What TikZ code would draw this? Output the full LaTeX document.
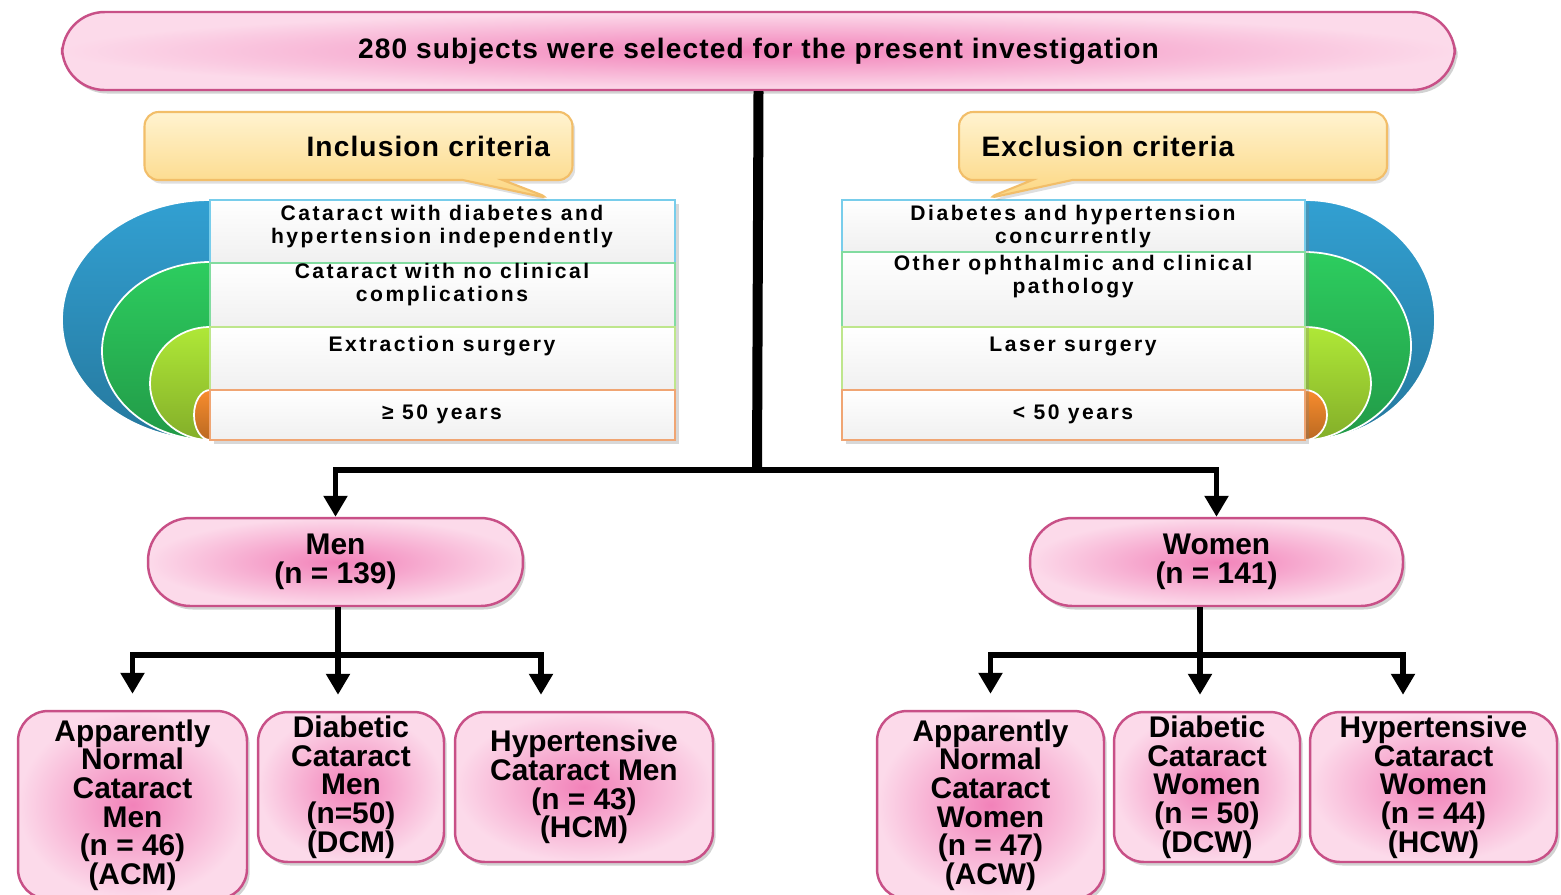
\documentclass[tikz,border=0pt]{standalone}
\usepackage{fontspec}
\setmainfont{Liberation Sans}
\newfontfamily\critfont[LetterSpace=12]{Liberation Sans}
\newfontfamily\headfont[LetterSpace=4]{Liberation Sans}
\usetikzlibrary{arrows.meta, positioning, shapes.callouts, shadows, calc}
\definecolor{pinkedge}{RGB}{200,80,135}
\definecolor{pinkmid}{RGB}{242,130,185}
\definecolor{pinklight}{RGB}{252,218,234}
\definecolor{calltop}{RGB}{255,243,208}
\definecolor{callbot}{RGB}{252,214,128}
\definecolor{calledge}{RGB}{242,190,105}
\definecolor{bowlblue}{RGB}{50,160,210}
\definecolor{bowlgreen}{RGB}{45,205,95}
\definecolor{bowllime}{RGB}{175,232,55}
\definecolor{bowlorange}{RGB}{248,140,45}
\definecolor{rowfill}{RGB}{240,240,240}
\definecolor{lineblue}{RGB}{120,205,235}
\definecolor{linegreen}{RGB}{130,220,160}
\definecolor{linelime}{RGB}{190,230,140}
\definecolor{lineorange}{RGB}{240,165,115}
\tikzset{
  pinkbox/.style = {draw=pinkedge, line width=1.4pt, inner color=pinkmid, outer color=pinklight,
                    align=center, inner sep=2pt, font=\fontsize{17}{16.3}\selectfont\bfseries,
                    drop shadow={shadow xshift=1.5pt, shadow yshift=-2pt, opacity=0.35}},
  pill/.style    = {pinkbox, rounded corners=0.85cm},
  group/.style   = {pinkbox, rounded corners=0.6cm},
  crit/.style    = {rectangle callout, draw=calledge, line width=1.2pt, top color=calltop,
                    bottom color=callbot, rounded corners=8pt, text width=7.66cm,
                    minimum height=1.36cm, inner xsep=0.45cm, callout pointer width=0.8cm,
                    font=\headfont\fontsize{16}{16}\selectfont\bfseries,
                    drop shadow={shadow xshift=1.5pt, shadow yshift=-2pt, opacity=0.25}},
  rowtext/.style = {align=center, font=\critfont\fontsize{12}{13}\selectfont\bfseries},
  trunk/.style   = {line width=0.2cm, black},
  arrow/.style   = {-{Triangle[width=0.46cm,length=0.42cm]}, line width=3pt, black},
}

\begin{document}
\begin{tikzpicture}[x=0.02cm, y=-0.02cm]

  \clip (0,0) rectangle (1561,894);
  \fill[white] (0,0) rectangle (1561,894);

  % title bar
  \node[pill, minimum width=27.86cm, minimum height=1.56cm,
        font=\headfont\fontsize{16}{16}\selectfont\bfseries] (banner) at (758.5,51)
        {280 subjects were selected for the present investigation};

  % bowls behind the criteria tables
  \foreach \yt/\rx/\c in {200/148/bowlblue, 262/108/bowlgreen, 327/60/bowllime, 390/16/bowlorange}
    \draw[white, line width=1pt, top color=\c, bottom color=\c!75!black]
      (210,\yt) arc[start angle=270, end angle=90, x radius=\rx, y radius={(440-\yt)/2}] -- cycle;
  \foreach \yt/\rx/\c in {200/130/bowlblue, 252/106/bowlgreen, 327/66/bowllime, 390/22/bowlorange}
    \draw[white, line width=1pt, top color=\c, bottom color=\c!75!black]
      (1305,\yt) arc[start angle=-90, end angle=90, x radius=\rx, y radius={(440-\yt)/2}] -- cycle;

  % criteria tables
  \fill[white, drop shadow={shadow xshift=2pt, shadow yshift=-2pt, opacity=0.3}] (210,200) rectangle (675,440);
  \fill[white, drop shadow={shadow xshift=2pt, shadow yshift=-2pt, opacity=0.3}] (842,200) rectangle (1305,440);
  \foreach \ya/\yb/\c in {200/263/lineblue, 263/327/linegreen, 327/390/linelime, 390/440/lineorange}
    \draw[\c, line width=1pt, top color=white, bottom color=rowfill] (210,\ya) rectangle (675,\yb);
  \foreach \ya/\yb/\c in {200/252/lineblue, 252/327/linegreen, 327/390/linelime, 390/440/lineorange}
    \draw[\c, line width=1pt, top color=white, bottom color=rowfill] (842,\ya) rectangle (1305,\yb);

  \node[rowtext] (inc1) at (442,226.5) {Cataract with diabetes and\\hypertension independently};
  \node[rowtext] (inc2) at (442,284.5) {Cataract with no clinical\\complications};
  \node[rowtext] (inc3) at (442,346) {Extraction surgery};
  \node[rowtext] (inc4) at (442,414) {≥ 50 years};
  \node[rowtext] (exc1) at (1073,226.5) {Diabetes and hypertension\\concurrently};
  \node[rowtext] (exc2) at (1073,276.5) {Other ophthalmic and clinical\\pathology};
  \node[rowtext] (exc3) at (1073,346) {Laser surgery};
  \node[rowtext] (exc4) at (1073,414) {< 50 years};

  % callouts
  \node[crit, align=right, callout absolute pointer={(552,199)}] (incl) at (358.5,146) {Inclusion criteria};
  \node[crit, align=left, callout absolute pointer={(985,199)}] (excl) at (1173,146) {Exclusion criteria};

  % sex groups
  \node[pill, minimum width=7.5cm, minimum height=1.76cm] (men) at (335.5,562) {Men\\(n = 139)};
  \node[pill, minimum width=7.46cm, minimum height=1.76cm] (women) at (1216.5,562) {Women\\(n = 141)};

  % study groups
  \node[group, minimum width=4.58cm, minimum height=3.76cm] (acm) at (132.5,805)
       {Apparently\\Normal\\Cataract\\Men\\(n = 46)\\(ACM)};
  \node[group, minimum width=3.72cm, minimum height=3cm] (dcm) at (351,787)
       {Diabetic\\Cataract\\Men\\(n=50)\\(DCM)};
  \node[group, minimum width=5.16cm, minimum height=3cm] (hcm) at (584,787)
       {Hypertensive\\Cataract Men\\(n = 43)\\(HCM)};
  \node[group, minimum width=4.54cm, minimum height=3.76cm] (acw) at (990.5,805)
       {Apparently\\Normal\\Cataract\\Women\\(n = 47)\\(ACW)};
  \node[group, minimum width=3.72cm, minimum height=3cm] (dcw) at (1207,787)
       {Diabetic\\Cataract\\Women\\(n = 50)\\(DCW)};
  \node[group, minimum width=4.94cm, minimum height=3cm] (hcw) at (1433.5,787)
       {Hypertensive\\Cataract\\Women\\(n = 44)\\(HCW)};

  % connectors
  \coordinate (split) at (757,470);
  \draw[trunk] (banner.south) -- (split);
  \draw[arrow] (split) -| (men.north);
  \draw[arrow] (split) -| (women.north);

  \coordinate (msplit) at (338,655);
  \draw[arrow, shorten >=0.32cm] (msplit |- men.south) -- (msplit |- dcm.north);
  \draw[arrow, shorten >=0.32cm] (msplit) -| (acm.north);
  \draw[arrow, shorten >=0.32cm] (msplit) -| ([xshift=-0.86cm]hcm.north);

  \coordinate (wsplit) at (1200,655);
  \draw[arrow, shorten >=0.32cm] (wsplit |- women.south) -- (wsplit |- dcw.north);
  \draw[arrow, shorten >=0.32cm] (wsplit) -| (acw.north);
  \draw[arrow, shorten >=0.32cm] (wsplit) -| ([xshift=-0.61cm]hcw.north);

\end{tikzpicture}
\end{document}
